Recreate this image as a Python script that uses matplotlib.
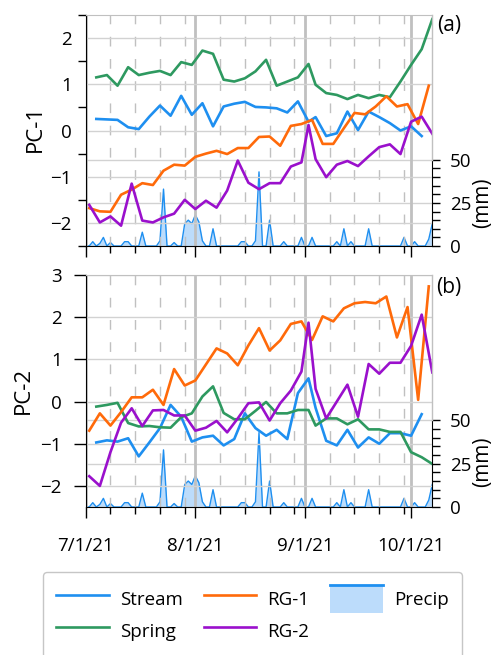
import numpy as np
import matplotlib
matplotlib.use('Agg')
import matplotlib.pyplot as plt
import matplotlib.dates as mdates
from matplotlib.lines import Line2D
from matplotlib.patches import Rectangle
from matplotlib.legend_handler import HandlerBase

plt.rcParams['font.family'] = ['Open Sans', 'DejaVu Sans']

start = np.datetime64('2021-07-01')
end_day = 98

# sampling days, counted from 7/1/21
days_stream = [3, 6, 9, 12, 15, 18, 21, 24, 27, 30, 33, 36, 39, 42, 45, 48, 51, 54, 57, 60, 63,
               65, 68, 71, 74, 77, 80, 83, 86, 89, 92, 95]
days_spring = days_stream + [98]
days_rg1 = [1, 4, 7, 10, 13, 16, 19, 22, 25, 28, 31, 34, 37, 40, 43, 46, 49, 52, 55, 58, 61,
            64, 67, 70, 73, 76, 79, 82, 85, 88, 91, 94, 97]
days_rg2 = [1, 4, 7, 10, 13, 16, 19, 22, 25, 28, 31, 34, 37, 40, 43, 46, 49, 52, 55, 58, 61,
            63, 65, 68, 71, 74, 77, 80, 83, 86, 89, 92, 95, 98]

# daily precipitation (mm), 7/1 .. 10/7
precip = [0, 0, 2.5, 0, 1.5, 5, 0, 2, 0, 0,
          0, 2.5, 2.5, 0, 0, 0, 8, 0, 0, 0,
          0, 3, 33, 0, 0, 2, 0, 0, 13, 15,
          13, 18, 14, 3, 0, 0, 10, 0, 0, 0,
          0, 0, 0, 0, 2.5, 2.5, 0, 0, 3, 43,
          0, 0, 15, 0, 0, 0, 2.5, 0, 0, 0,
          0, 5, 0, 0, 5, 0, 0, 0, 0, 0,
          0, 2.5, 0, 10, 0, 2.5, 0, 0, 0, 0,
          10, 0, 0, 0, 0, 0, 0, 0, 0, 0,
          5, 0, 0, 2.5, 0, 0, 0, 4, 13]

pc1_stream = [0.25, 0.24, 0.23, 0.07, 0.03, 0.30, 0.54, 0.32, 0.75, 0.34, 0.59, 0.09, 0.52,
              0.58, 0.62, 0.51, 0.50, 0.48, 0.39, 0.63, 0.19, 0.29, -0.12, -0.06, 0.41, 0.01,
              0.41, 0.29, 0.16, 0.00, 0.09, -0.12]
pc1_spring = [1.15, 1.20, 0.97, 1.37, 1.20, 1.25, 1.29, 1.20, 1.48, 1.42, 1.73, 1.66, 1.10,
              1.06, 1.13, 1.28, 1.53, 0.97, 1.06, 1.15, 1.44, 0.99, 0.81, 0.77, 0.68, 0.77,
              0.70, 0.77, 0.72, 1.06, 1.42, 1.76, 2.41]
pc1_rg1 = [-1.68, -1.75, -1.76, -1.39, -1.28, -1.14, -1.18, -0.87, -0.74, -0.76, -0.57, -0.50,
           -0.44, -0.51, -0.38, -0.38, -0.14, -0.13, -0.33, 0.10, 0.14, 0.23, -0.29, -0.29,
           0.05, 0.38, 0.35, 0.52, 0.74, 0.52, 0.57, 0.14, 0.97]
pc1_rg2 = [-1.61, -1.99, -1.86, -2.06, -1.15, -1.95, -1.99, -1.88, -1.80, -1.50, -1.70, -1.52,
           -1.67, -1.30, -0.65, -1.13, -1.27, -1.14, -1.14, -0.78, -0.69, 0.12, -0.62, -1.01,
           -0.74, -0.66, -0.77, -0.56, -0.36, -0.30, -0.51, 0.19, 0.30, -0.07]

pc2_stream = [-0.97, -0.92, -0.95, -0.87, -1.30, -0.97, -0.63, -0.08, -0.36, -0.95, -0.85,
              -0.81, -1.04, -0.89, -0.28, -0.63, -0.81, -0.67, -0.89, 0.20, 0.55, -0.15,
              -0.93, -1.04, -0.67, -1.09, -0.85, -1.00, -0.75, -0.75, -0.81, -0.30]
pc2_spring = [-0.12, -0.08, -0.03, -0.51, -0.59, -0.58, -0.61, -0.62, -0.37, -0.28, 0.12, 0.36,
              -0.27, -0.42, -0.42, -0.22, -0.01, -0.28, -0.28, -0.20, -0.20, -0.57, -0.40,
              -0.40, -0.54, -0.42, -0.66, -0.66, -0.72, -0.72, -1.20, -1.32, -1.48]
pc2_rg1 = [-0.69, -0.28, -0.57, -0.25, 0.10, 0.10, 0.28, -0.08, 0.77, 0.38, 0.50, 0.88, 1.26,
           1.14, 0.86, 1.33, 1.74, 1.21, 1.45, 1.84, 1.90, 1.46, 2.02, 1.90, 2.21, 2.33, 2.36,
           2.33, 2.49, 1.52, 2.24, 0.04, 2.73]
pc2_rg2 = [-1.77, -2.00, -1.20, -0.50, -0.16, -0.58, -0.21, -0.20, -0.33, -0.33, -0.69, -0.62,
           -0.46, -0.73, -0.40, -0.04, -0.02, -0.45, -0.04, 0.26, 0.71, 1.87, 0.30, -0.40,
           0.00, 0.40, -0.36, 0.89, 0.66, 0.92, 0.92, 1.32, 2.06, 0.69]

c_stream = '#1e8ff0'
c_spring = '#2e9960'
c_rg1 = '#ff6a0a'
c_rg2 = '#9a10cc'
c_fill = '#bcdcfb'
c_grid = '#d2d2d2'
c_frame = '#c0c0c0'

W, H = 495, 655
TICK = 13.5


def dates(days):
    return start + np.array(days, dtype='timedelta64[D]')


def fmt_date(x, pos):
    d = mdates.num2date(x)
    return f'{d.month}/{d.day}/{d:%y}'


class AreaHandler(HandlerBase):
    def create_artists(self, legend, orig, xdescent, ydescent, width, height, fontsize, trans):
        box = Rectangle((-xdescent, -ydescent), width, height, facecolor=c_fill,
                        edgecolor='none', transform=trans)
        top = Line2D([-xdescent, width - xdescent], [height - ydescent] * 2,
                     color=c_stream, lw=2, transform=trans)
        return [box, top]


def draw_panel(ax, stream, spring, rg1, rg2, bottom_panel):
    ax2 = ax.twinx()
    ax.set_zorder(ax2.get_zorder() + 1)
    ax.patch.set_visible(False)

    # precipitation on the secondary axis
    pdays = dates(np.arange(len(precip)))
    ax2.fill_between(pdays, 0, precip, color=c_fill, lw=0)
    ax2.plot(pdays, precip, color=c_stream, lw=1)
    ax2.set_ylim(0, 134)
    ax2.set_yticks([0, 25, 50])
    ax2.set_yticks(np.arange(0, 51, 5), minor=True)
    ax2.tick_params(axis='y', which='both', length=5.8, width=1, pad=7, labelsize=TICK)
    ax2.grid(axis='y', which='major', color=c_grid, lw=1)
    for s in ['top', 'left', 'bottom']:
        ax2.spines[s].set_visible(False)
    ax2.spines['right'].set_bounds(0, 50)
    ax2.spines['right'].set_color('black')

    ax.plot(dates(days_stream[:len(stream)]), stream, color=c_stream, lw=1.9)
    ax.plot(dates(days_spring), spring, color=c_spring, lw=1.9)
    ax.plot(dates(days_rg1), rg1, color=c_rg1, lw=1.9)
    ax.plot(dates(days_rg2), rg2, color=c_rg2, lw=1.9)

    ax.set_xlim(dates([0])[0], dates([end_day])[0])
    ax.xaxis.set_major_locator(mdates.MonthLocator())
    ax.xaxis.set_minor_locator(mdates.DayLocator(bymonthday=[8, 15, 22, 29]))
    ax.xaxis.set_major_formatter(plt.FuncFormatter(fmt_date))
    ax.tick_params(axis='x', which='major', length=8, width=1, pad=13.5, labelsize=TICK)
    ax.tick_params(axis='x', which='minor', length=5, width=1)
    ax.grid(axis='x', which='major', color=c_frame, lw=2)
    ax.grid(axis='x', which='minor', color=c_frame, lw=1, ls=(0, (7, 9)))
    ax.grid(axis='y', which='major', color=c_grid, lw=1)

    if bottom_panel:
        ax.set_ylim(-2.5, 3)
        ax.set_yticks(np.arange(-2, 4))
        ax.tick_params(axis='y', which='major', length=8.6, width=1, pad=8.6, labelsize=TICK)
    else:
        ax.set_ylim(-2.5, 2.5)
        ax.set_yticks(np.arange(-2, 3))
        ax.set_yticks(np.arange(-2.5, 2.6, 1), minor=True)
        ax.tick_params(axis='y', which='major', length=0, pad=10, labelsize=TICK)
        ax.tick_params(axis='y', which='minor', length=5.8, width=1)
        ax.tick_params(axis='x', labelbottom=False)

    ax.spines['top'].set_color(c_frame)
    ax.spines['right'].set_visible(False)
    ax.plot([1, 1], [50 / 134, 1], transform=ax.transAxes, color=c_frame, lw=1, clip_on=False)
    return ax2


fig = plt.figure(figsize=(W / 100, H / 100), dpi=100)
ax_a = fig.add_axes([85.7 / W, 1 - 246 / H, 346.6 / W, 231 / H])
ax_b = fig.add_axes([85.7 / W, 1 - 507 / H, 346.6 / W, 232 / H])

draw_panel(ax_a, pc1_stream, pc1_spring, pc1_rg1, pc1_rg2, False)
draw_panel(ax_b, pc2_stream, pc2_spring, pc2_rg1, pc2_rg2, True)

fig.text(35 / W, 1 - 128 / H, 'PC-1', rotation=90, ha='center', va='center', fontsize=16)
fig.text(23 / W, 1 - 390 / H, 'PC-2', rotation=90, ha='center', va='center', fontsize=16)
fig.text(483 / W, 1 - 203 / H, '(mm)', rotation=90, ha='center', va='center', fontsize=15)
fig.text(483 / W, 1 - 462 / H, '(mm)', rotation=90, ha='center', va='center', fontsize=15)
fig.text(449 / W, 1 - 26 / H, '(a)', ha='center', va='center', fontsize=15)
fig.text(449 / W, 1 - 287 / H, '(b)', ha='center', va='center', fontsize=15)

handles = [Line2D([], [], color=c_stream, lw=1.9), Line2D([], [], color=c_spring, lw=1.9),
           Line2D([], [], color=c_rg1, lw=1.9), Line2D([], [], color=c_rg2, lw=1.9),
           Rectangle((0, 0), 1, 1)]
labels = ['Stream', 'Spring', 'RG-1', 'RG-2', 'Precip']
leg = fig.legend(handles, labels, ncol=3, loc='upper center', bbox_to_anchor=(0.51, 1 - 572 / H),
                 fontsize=TICK, frameon=True, fancybox=True, handlelength=2.8, handleheight=1.92,
                 handletextpad=0.6, columnspacing=1.1, labelspacing=0.2, borderpad=0.7,
                 borderaxespad=0, handler_map={Rectangle: AreaHandler()})
leg.get_frame().set_edgecolor('#b8b8b8')
leg.get_frame().set_linewidth(1)

fig.savefig('out.png', dpi=100)
